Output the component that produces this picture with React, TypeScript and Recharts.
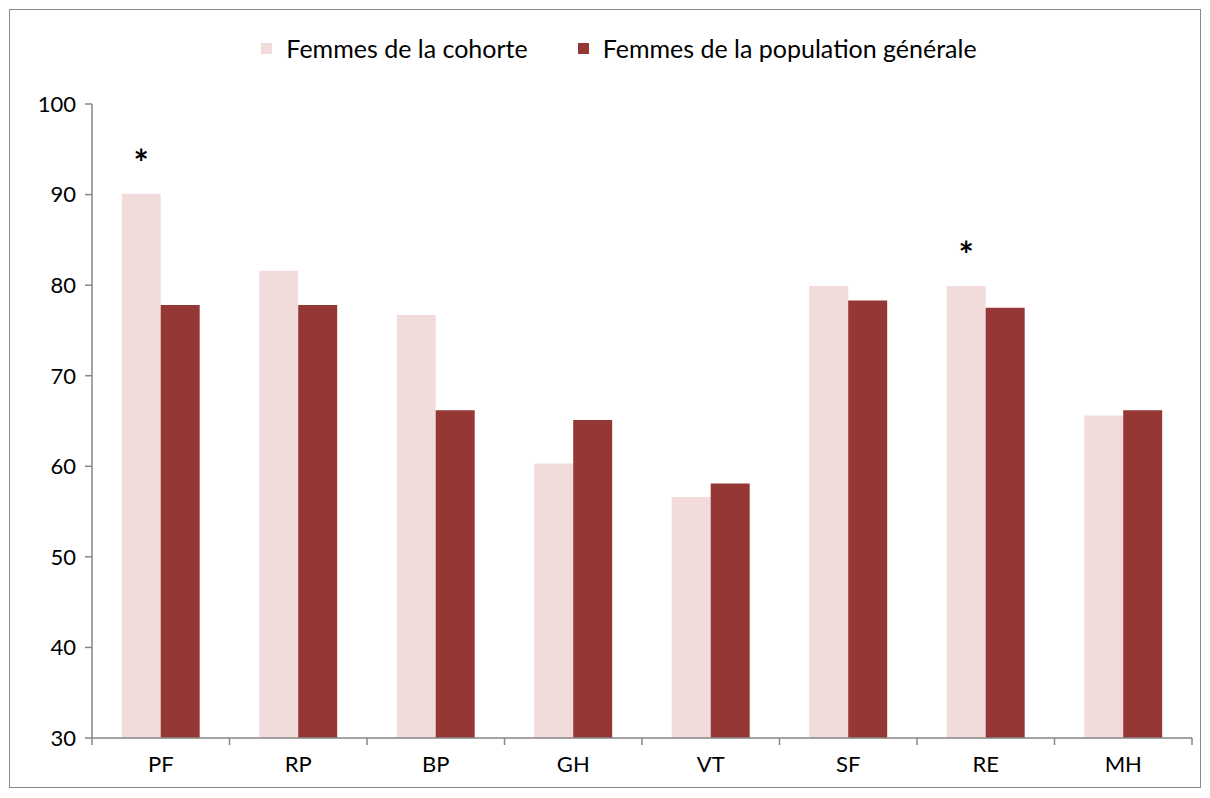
import { BarChart, Bar, XAxis, YAxis, Legend, LabelList } from "recharts";

const categories = ["PF", "RP", "BP", "GH", "VT", "SF", "RE", "MH"];
const cohorte = [90.1, 81.6, 76.7, 60.3, 56.6, 79.9, 79.9, 65.6];
const generale = [77.8, 77.8, 66.2, 65.1, 58.1, 78.3, 77.5, 66.2];
const significatif = [true, false, false, false, false, false, true, false];
const yTicks = [30, 40, 50, 60, 70, 80, 90, 100];

const data = categories.map((c, i) => ({
  name: c,
  cohorte: cohorte[i],
  generale: generale[i],
  sig: significatif[i],
}));

const FONT = "Lato, 'Noto Sans', sans-serif";
const AXIS = "#868686";
const STEP = 1100 / categories.length;

function XTick(props: any) {
  const { x, y, payload, index } = props;
  return (
    <g>
      <line x1={x - STEP / 2} y1={y - 8} x2={x - STEP / 2} y2={y - 1} stroke={AXIS} strokeWidth={1.5} />
      {index === categories.length - 1 && (
        <line x1={x + STEP / 2} y1={y - 8} x2={x + STEP / 2} y2={y - 1} stroke={AXIS} strokeWidth={1.5} />
      )}
      <text x={x} y={y + 26} textAnchor="middle" fill="#000" fontSize={22} fontFamily={FONT}>
        {payload.value}
      </text>
    </g>
  );
}

function Star(props: any) {
  const { x, y, width, index } = props;
  if (!significatif[index]) return null;
  return (
    <text x={x + width / 2} y={y - 18} textAnchor="middle" fill="#000" fontSize={36} fontWeight="bold" fontFamily={FONT}>
      *
    </text>
  );
}

function LegendBox(props: any) {
  const { payload } = props;
  return (
    <div style={{ display: "flex", justifyContent: "center", paddingLeft: 36, fontFamily: FONT, fontSize: 25, color: "#000", lineHeight: "30px" }}>
      {(payload || []).map((p: any, i: number) => (
        <div key={i} style={{ display: "flex", alignItems: "center", marginLeft: i === 0 ? 0 : 50 }}>
          <span style={{ width: 11, height: 11, background: p.color, display: "inline-block", marginRight: 14 }} />
          <span>{p.value}</span>
        </div>
      ))}
    </div>
  );
}

export default function App() {
  return (
    <div style={{ width: 1190, height: 777, border: "1px solid #8a8a8a", marginTop: 1, marginLeft: 1, background: "#fff" }}>
      <BarChart
        width={1190}
        height={777}
        data={data}
        margin={{ top: 64, right: 8, bottom: 0, left: 0 }}
        barCategoryGap="21.6%"
        barGap={0}
      >
        <Legend
          verticalAlign="top"
          align="center"
          wrapperStyle={{ top: 23 }}
          content={<LegendBox />}
        />
        <XAxis
          dataKey="name"
          height={49}
          axisLine={{ stroke: AXIS, strokeWidth: 1.5 }}
          tickLine={false}
          tick={<XTick />}
          interval={0}
        />
        <YAxis
          domain={[30, 100]}
          ticks={yTicks}
          width={82}
          axisLine={{ stroke: AXIS, strokeWidth: 1.5 }}
          tickLine={{ stroke: AXIS, strokeWidth: 1.5 }}
          tickSize={7}
          tickMargin={9}
          tick={{ fill: "#000", fontSize: 22, fontFamily: FONT }}
          interval={0}
          allowDataOverflow
        />
        <Bar dataKey="cohorte" name="Femmes de la cohorte" fill="#F2DCDB" isAnimationActive={false}>
          <LabelList dataKey="cohorte" content={<Star />} />
        </Bar>
        <Bar dataKey="generale" name="Femmes de la population générale" fill="#953735" isAnimationActive={false} />
      </BarChart>
    </div>
  );
}
